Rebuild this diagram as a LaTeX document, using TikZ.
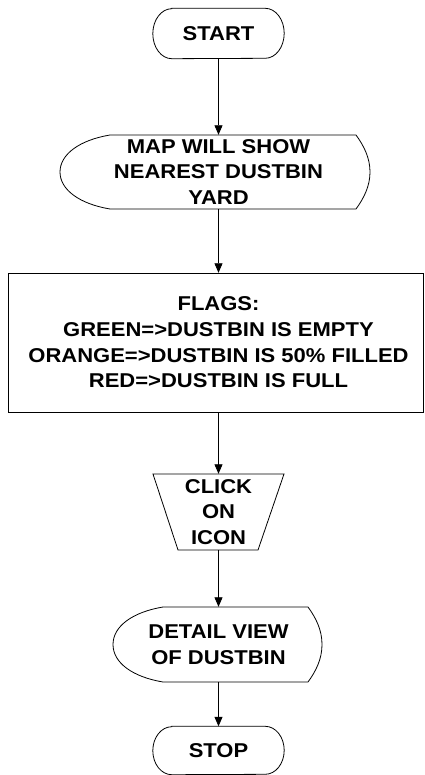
\documentclass[tikz,border=0pt]{standalone}
\usepackage{fontspec}
\setmainfont{Liberation Sans}[FakeStretch=1.1]
\usetikzlibrary{arrows.meta,calc}
\tikzset{
  lbl/.style={draw=none,inner sep=0pt,align=center,font=\fontsize{20}{25.7}\selectfont\bfseries},
  outline/.style={draw=black,line width=0.8pt},
  flow/.style={draw=black,line width=0.8pt,-{Triangle[length=9.5pt,width=8pt]}}
}
\begin{document}
\begin{tikzpicture}[x=1pt,y=1pt]
\useasboundingbox (0,0) rectangle (424,-775);
% ---- START terminal
\node[lbl,minimum width=131pt,minimum height=50pt] (start) at (218.5,-33.5) {START};
\draw[outline] ($(start.north west)+(19,0)$) -- ($(start.north east)+(-19,0)$)
  arc[start angle=90,end angle=-90,x radius=19,y radius=25]
  -- ($(start.south west)+(19,0)$)
  arc[start angle=270,end angle=90,x radius=19,y radius=25] -- cycle;
% ---- MAP display
\node[lbl,minimum width=303pt,minimum height=74pt] (map) at (218.5,-172) {MAP WILL SHOW\\NEAREST DUSTBIN\\YARD};
\draw[outline] (110,-135) -- (356,-135)
  .. controls (364,-146) and (370,-158) .. (370,-172)
  .. controls (370,-186) and (364,-198) .. (356,-209)
  -- (110,-209)
  .. controls (80,-204) and (60,-190) .. (60,-172)
  .. controls (60,-154) and (80,-140) .. cycle;
% ---- FLAGS process
\node[lbl,minimum height=139pt] (flags) at (218.5,-342.5) {FLAGS:\\GREEN=>DUSTBIN IS EMPTY\\ORANGE=>DUSTBIN IS 50\% FILLED\\RED=>DUSTBIN IS FULL};
\draw[outline] (8,-273) rectangle (423.4,-412);
% ---- CLICK manual operation
\node[lbl,minimum height=76pt] (click) at (218.5,-512) {CLICK\\ON\\ICON};
\draw[outline] (153,-474) -- (284,-474) -- (258,-550) -- (178,-550) -- cycle;
% ---- DETAIL display
\node[lbl,minimum width=207pt,minimum height=75pt] (detail) at (218.5,-644.5) {DETAIL VIEW\\OF DUSTBIN};
\draw[outline] (163,-607) -- (308,-607)
  .. controls (316,-618) and (322,-630) .. (322,-644.5)
  .. controls (322,-659) and (316,-671) .. (308,-682)
  -- (163,-682)
  .. controls (133,-677) and (113,-663) .. (113,-644.5)
  .. controls (113,-626) and (133,-612) .. cycle;
% ---- STOP terminal
\node[lbl,minimum width=131pt,minimum height=48pt] (stop) at (218.5,-750.5) {STOP};
\draw[outline] ($(stop.north west)+(19,0)$) -- ($(stop.north east)+(-19,0)$)
  arc[start angle=90,end angle=-90,x radius=19,y radius=24]
  -- ($(stop.south west)+(19,0)$)
  arc[start angle=270,end angle=90,x radius=19,y radius=24] -- cycle;
% ---- connectors
\draw[flow] (start.south) -- (map.north);
\draw[flow] (map.south) -- (flags.north);
\draw[flow] (flags.south) -- (click.north);
\draw[flow] (click.south) -- (detail.north);
\draw[flow] (detail.south) -- (stop.north);
\end{tikzpicture}
\end{document}
